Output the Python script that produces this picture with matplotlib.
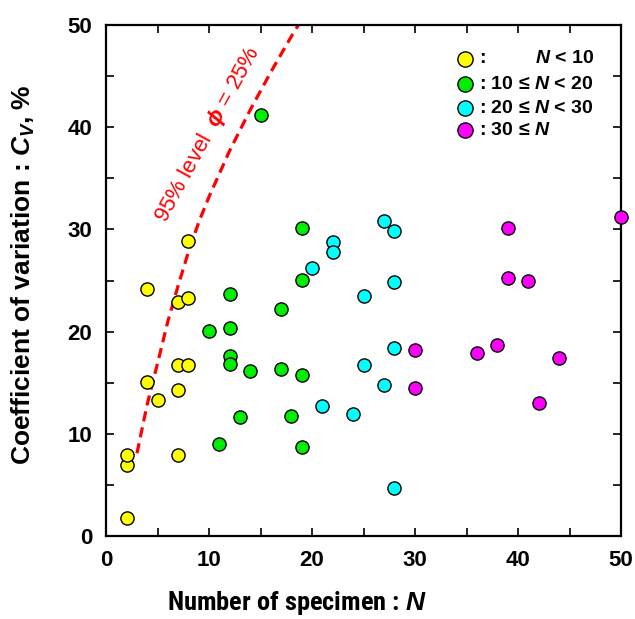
import matplotlib
matplotlib.use("Agg")
import matplotlib.pyplot as plt
from matplotlib import font_manager

# ---- data ----
yellow_N = [2, 2, 2, 4, 4, 5, 7, 7, 7, 7, 8, 8, 8]
yellow_cv = [1.8, 7.0, 7.9, 24.2, 15.1, 13.3, 22.9, 16.7, 14.3, 7.9, 28.9, 23.3, 16.7]

green_N = [10, 11, 12, 12, 12, 12, 13, 14, 15, 17, 17, 18, 19, 19, 19, 19]
green_cv = [20.1, 9.0, 23.7, 20.4, 17.6, 16.8, 11.6, 16.1, 41.2, 22.2, 16.3, 11.7, 30.1, 25.1, 15.8, 8.7]

cyan_N = [20, 21, 22, 22, 24, 25, 25, 27, 27, 28, 28, 28, 28]
cyan_cv = [26.2, 12.7, 28.8, 27.8, 11.9, 23.5, 16.7, 30.8, 14.8, 29.8, 24.9, 18.4, 4.7]

magenta_N = [30, 30, 36, 38, 39, 39, 41, 42, 44, 50]
magenta_cv = [18.2, 14.5, 17.9, 18.7, 30.1, 25.2, 25.0, 13.0, 17.4, 31.2]

# 95% level curve (phi = 25%)
curve_N = [3, 4, 5, 6, 7, 8, 9, 10, 12, 14, 16, 18, 18.8]
curve_cv = [8.1, 12.9, 16.9, 21.0, 24.5, 27.8, 30.7, 33.2, 37.7, 41.7, 45.4, 48.9, 50.2]

legend_labels = [":", ": 10 \u2264 $N$ < 20", ": 20 \u2264 $N$ < 30", ": 30 \u2264 $N$"]
colors = ["#FFFF00", "#00EE00", "#00FFFF", "#FF00FF"]

# pick a condensed family if one is installed (for the x-axis title)
names = {f.name for f in font_manager.fontManager.ttflist}
narrow = None
for cand in ['Liberation Sans Narrow', 'Roboto Condensed', 'DejaVu Sans Condensed',
             'Open Sans Condensed', 'Arial Narrow']:
    if cand in names:
        narrow = cand
        break
if narrow:
    xlab_family = [narrow, 'DejaVu Sans']
    xlab_size = 19
else:
    xlab_family = ['Liberation Sans', 'DejaVu Sans']
    xlab_size = 16

plt.rcParams['font.family'] = ['Liberation Sans', 'DejaVu Sans']
plt.rcParams['mathtext.fontset'] = 'custom'
plt.rcParams['mathtext.it'] = 'Liberation Sans:bold:italic'
plt.rcParams['mathtext.rm'] = 'Liberation Sans:bold'
plt.rcParams['mathtext.bf'] = 'Liberation Sans:bold'

fig = plt.figure(figsize=(6.35, 6.19), dpi=100)
ax = fig.add_axes([0.167, 0.134, 0.811, 0.8256])

ax.plot(curve_N, curve_cv, color='red', lw=2.3, linestyle=(0, (3.2, 1.9)), zorder=2, clip_on=True)

for xs, ys, c in [(yellow_N, yellow_cv, colors[0]), (green_N, green_cv, colors[1]),
                  (cyan_N, cyan_cv, colors[2]), (magenta_N, magenta_cv, colors[3])]:
    ax.scatter(xs, ys, s=90, c=c, edgecolors='black', linewidths=1.0, zorder=3, clip_on=False)

ax.set_xlim(0, 50)
ax.set_ylim(0, 50)
ax.set_xticks(range(0, 51, 5))
ax.set_yticks(range(0, 51, 5))
ax.set_xticklabels([str(v) if v % 10 == 0 else "" for v in range(0, 51, 5)])
ax.set_yticklabels([str(v) if v % 10 == 0 else "" for v in range(0, 51, 5)])
ax.tick_params(direction='in', length=6, width=1.2, top=True, right=True,
               labelsize=16, pad=10)
for lab in ax.get_xticklabels() + ax.get_yticklabels():
    lab.set_fontweight('bold')
for sp in ax.spines.values():
    sp.set_linewidth(1.6)

ax.set_xlabel("Number of specimen : $N$", fontsize=xlab_size, fontweight='bold',
              family=xlab_family)
ax.xaxis.set_label_coords(0.371, -0.103)
ax.set_ylabel("Coefficient of variation : $C_V$, %", fontsize=19, fontweight='bold',
              family=['Liberation Sans', 'DejaVu Sans'])
ax.yaxis.set_label_coords(-0.134, 0.511)

ax.text(9.9, 39.3, "95% level  $\\phi$ = 25%", color='red', fontsize=16,
        rotation=61.5, ha='center', va='center', zorder=4)

# legend drawn manually
leg_y = [0.934, 0.884, 0.837, 0.794]
for i, (lab, c) in enumerate(zip(legend_labels, colors)):
    ax.scatter([0.697], [leg_y[i]], s=120, c=c, edgecolors='black', linewidths=1.0,
               transform=ax.transAxes, zorder=5, clip_on=False)
    ax.text(0.725, leg_y[i], lab, transform=ax.transAxes, fontsize=14, fontweight='bold',
            ha='left', va='center')
ax.text(0.948, leg_y[0], "$N$ < 10", transform=ax.transAxes, fontsize=14, fontweight='bold',
        ha='right', va='center')

fig.savefig("out.png", dpi=100)
